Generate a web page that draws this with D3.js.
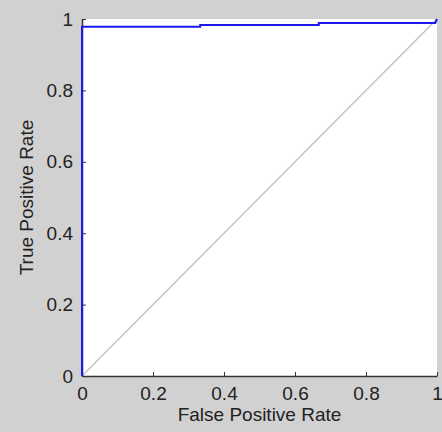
<!DOCTYPE html>
<html>
<head>
  <script src="https://d3js.org/d3.v7.min.js"></script>
  <style>
    body { margin: 0; background: #d1d1d1; }
    text { font-family: "Liberation Sans", Arial, sans-serif; fill: #222; }
  </style>
</head>
<body>
  <svg id="roc" width="442" height="432"></svg>
  <script>
    // ROC curve points
    const fpr = [0, 0, 0.333, 0.333, 0.667, 0.667, 0.995, 1];
    const tpr = [0, 0.978, 0.978, 0.983, 0.983, 0.989, 0.989, 1];
    const tickValues = [0, 0.2, 0.4, 0.6, 0.8, 1];
    const tickLabels = ['0', '0.2', '0.4', '0.6', '0.8', '1'];

    const svg = d3.select('svg#roc');
    const margins = { top: 19, right: 5, bottom: 56, left: 82 };
    const chartWidth = 442 - margins.left - margins.right;
    const chartHeight = 432 - margins.top - margins.bottom;

    svg.append('rect')
      .attr('width', 442).attr('height', 432)
      .attr('fill', '#d1d1d1');

    const chartArea = svg.append('g')
      .attr('transform', `translate(${margins.left},${margins.top})`);

    const xScale = d3.scaleLinear().domain([0, 1]).range([0, chartWidth]);
    const yScale = d3.scaleLinear().domain([0, 1]).range([chartHeight, 0]);

    chartArea.append('rect')
      .attr('width', chartWidth).attr('height', chartHeight)
      .attr('fill', 'white');

    // diagonal reference line
    chartArea.append('line')
      .attr('x1', xScale(0)).attr('y1', yScale(0))
      .attr('x2', xScale(1)).attr('y2', yScale(1))
      .attr('stroke', '#c4c4c4').attr('stroke-width', 1.5);

    // axes, ticks pointing inward
    const bottomAxis = d3.axisBottom(xScale)
      .tickValues(tickValues)
      .tickFormat((d, i) => tickLabels[i])
      .tickSizeInner(-4).tickSizeOuter(0).tickPadding(11);
    const xAx = chartArea.append('g')
      .attr('transform', `translate(0,${chartHeight})`)
      .call(bottomAxis);

    const leftAxis = d3.axisLeft(yScale)
      .tickValues(tickValues)
      .tickFormat((d, i) => tickLabels[i])
      .tickSizeInner(-4).tickSizeOuter(0).tickPadding(9);
    const yAx = chartArea.append('g').call(leftAxis);

    [xAx, yAx].forEach(ax => {
      ax.select('.domain').attr('stroke', '#333').attr('stroke-width', 1.5);
      ax.selectAll('.tick line').attr('stroke', '#333');
      ax.selectAll('.tick text')
        .style('font-size', '19px')
        .attr('fill', '#2a2a2a');
    });

    // ROC curve
    const pts = fpr.map((f, i) => [f, tpr[i]]);
    const line = d3.line().x(d => xScale(d[0])).y(d => yScale(d[1]));
    chartArea.append('path')
      .datum(pts)
      .attr('d', line)
      .attr('fill', 'none')
      .attr('stroke', '#1a1aee')
      .attr('stroke-width', 2);

    // axis titles
    svg.append('text')
      .attr('x', margins.left + chartWidth / 2)
      .attr('y', 421)
      .attr('text-anchor', 'middle')
      .style('font-size', '19px')
      .text('False Positive Rate');

    svg.append('text')
      .attr('transform', `translate(33,${margins.top + chartHeight / 2}) rotate(-90)`)
      .attr('text-anchor', 'middle')
      .style('font-size', '19px')
      .text('True Positive Rate');
  </script>
</body>
</html>
